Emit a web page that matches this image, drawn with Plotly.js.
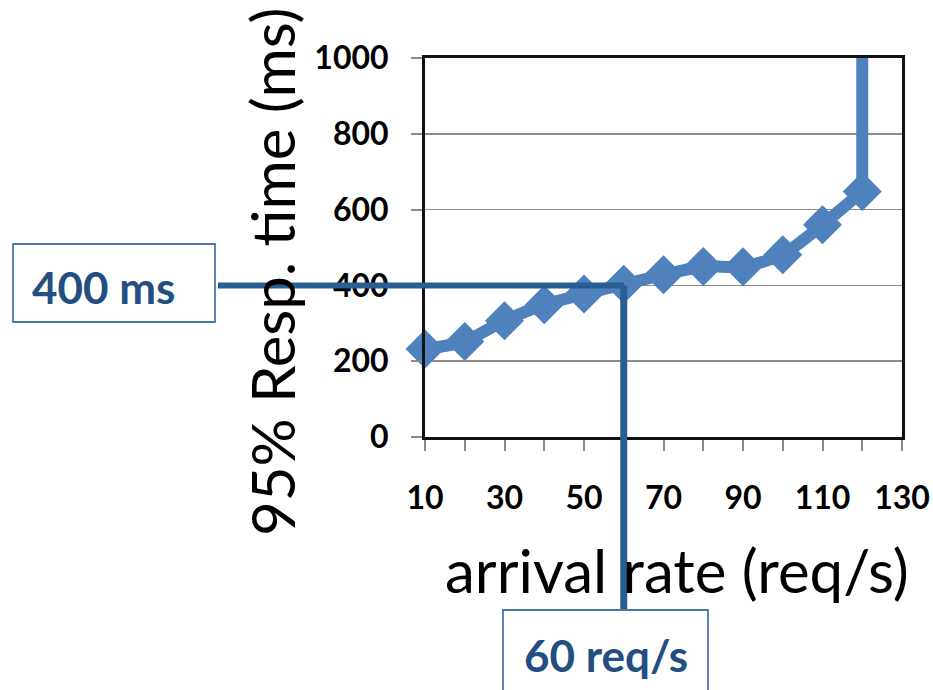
<!DOCTYPE html>
<html>
<head>
<meta charset="utf-8">
<script src="https://cdn.plot.ly/plotly-3.0.1.min.js"></script>
<style>
  html, body { margin: 0; padding: 0; background: #fff; }
  #chart { width: 933px; height: 690px; }
</style>
</head>
<body>
<div id="chart"></div>
<script>
// Measured 95th percentile response time against arrival rate.
// The final sample leaves the chart (the system saturates at 120 req/s).
const arrivalRate = [10, 20, 30, 40, 50, 60, 70, 80, 90, 100, 110, 120, 120];
const respTime95  = [232, 252, 307, 349, 377, 403, 428, 450, 449, 481, 560, 648, 3000];

// x axis ticks every 10, labelled every 20
const xTickVals  = [10, 20, 30, 40, 50, 60, 70, 80, 90, 100, 110, 120, 130];
const xTickText  = ['10', '', '30', '', '50', '', '70', '', '90', '', '110', '', '130'];
const yTickVals  = [0, 200, 400, 600, 800, 1000];

// operating point highlighted by the callouts
const targetRate = 60;
const targetTime = 400;

const blue = '#4F81BD';
const calloutLine = '#285E92';
const calloutBorder = '#4A78AE';
const calloutText = '#234E82';

// plot area in pixels: left 425, right 902, top 58, bottom 437
const L = 425, R = 902, T = 58, B = 437;
const px = v => (v - L) / (R - L);
const py = v => (B - v) / (B - T);

const n = arrivalRate.length;

// saturation: straight rise off the top of the chart
const saturation = {
  x: arrivalRate.slice(n - 2),
  y: respTime95.slice(n - 2),
  type: 'scatter',
  mode: 'lines',
  line: { color: blue, width: 12 },
  hoverinfo: 'skip'
};

// measured points, smoothed
const measured = {
  x: arrivalRate.slice(0, n - 1),
  y: respTime95.slice(0, n - 1),
  type: 'scatter',
  mode: 'lines+markers',
  line: { color: blue, width: 12, shape: 'spline', smoothing: 0.6 },
  marker: { symbol: 'diamond', color: blue, size: 30, opacity: 1, line: { width: 0 } },
  opacity: 1,
  cliponaxis: false,
  hoverinfo: 'x+y'
};

const layout = {
  width: 933,
  height: 690,
  margin: { l: L, r: 933 - R, t: T, b: 690 - B },
  paper_bgcolor: '#ffffff',
  plot_bgcolor: '#ffffff',
  showlegend: false,
  font: { family: 'Lato, "Open Sans", sans-serif', color: '#000' },
  xaxis: {
    range: [10, 130],
    tickmode: 'array',
    tickvals: xTickVals,
    ticktext: xTickText,
    ticks: 'outside',
    ticklen: 11,
    tickwidth: 2,
    tickcolor: '#8a8a8a',
    ticklabelstandoff: 20,
    tickfont: { family: 'Lato', size: 32, color: '#000', weight: 'bold' },
    showgrid: false,
    zeroline: false,
    showline: true,
    linecolor: '#111',
    linewidth: 3,
    mirror: true
  },
  yaxis: {
    range: [0, 1000],
    tickmode: 'array',
    tickvals: yTickVals,
    ticks: 'outside',
    ticklen: 11,
    tickwidth: 2,
    tickcolor: '#8a8a8a',
    ticklabelstandoff: 16,
    tickfont: { family: 'Lato', size: 32, color: '#000', weight: 'bold' },
    showgrid: true,
    gridcolor: '#8c8c8c',
    gridwidth: 1.5,
    zeroline: false,
    showline: true,
    linecolor: '#111',
    linewidth: 3,
    mirror: true
  },
  shapes: [
    // horizontal guide at the target response time
    { type: 'line', xref: 'paper', yref: 'y', x0: px(218), x1: null, y0: targetTime, y1: targetTime,
      line: { color: calloutLine, width: 6 } },
    // vertical guide at the target arrival rate
    { type: 'line', xref: 'x', yref: 'y', x0: targetRate, x1: targetRate, y0: targetTime, y1: 0,
      line: { color: calloutLine, width: 7 } },
    { type: 'line', xref: 'x', yref: 'paper', x0: targetRate, x1: targetRate, y0: 0, y1: py(611),
      line: { color: calloutLine, width: 7 } },
    // callout boxes
    { type: 'rect', xref: 'paper', yref: 'paper', x0: px(13), x1: px(215), y0: py(322), y1: py(244),
      line: { color: calloutBorder, width: 1.8 }, fillcolor: 'rgba(255,255,255,0)' },
    { type: 'rect', xref: 'paper', yref: 'paper', x0: px(503), x1: px(708), y0: py(720), y1: py(610),
      line: { color: calloutBorder, width: 1.8 }, fillcolor: 'rgba(255,255,255,0)' }
  ],
  annotations: [
    { text: '400 ms', xref: 'paper', yref: 'paper', x: px(103), y: py(287),
      showarrow: false, xanchor: 'center', yanchor: 'middle',
      font: { family: 'Lato', size: 44, color: calloutText, weight: 'bold' } },
    { text: '60 req/s', xref: 'paper', yref: 'paper', x: px(606), y: py(655),
      showarrow: false, xanchor: 'center', yanchor: 'middle',
      font: { family: 'Lato', size: 44, color: calloutText, weight: 'bold' } },
    { text: '95% Resp. time (ms)', xref: 'paper', yref: 'paper', x: px(272), y: py(272),
      showarrow: false, textangle: -90, xanchor: 'center', yanchor: 'middle',
      font: { family: 'Lato', size: 60, color: '#000' } },
    { text: 'arrival rate (req/s)', xref: 'paper', yref: 'paper', x: px(677), y: py(570),
      showarrow: false, xanchor: 'center', yanchor: 'middle',
      font: { family: 'Lato', size: 60, color: '#000' } }
  ]
};

// horizontal guide ends at the target rate on the x axis
layout.shapes[0].x1 = px(L + (targetRate - 10) / 120 * (R - L));

Plotly.newPlot('chart', [saturation, measured], layout, { displayModeBar: false, staticPlot: true });
</script>
</body>
</html>
